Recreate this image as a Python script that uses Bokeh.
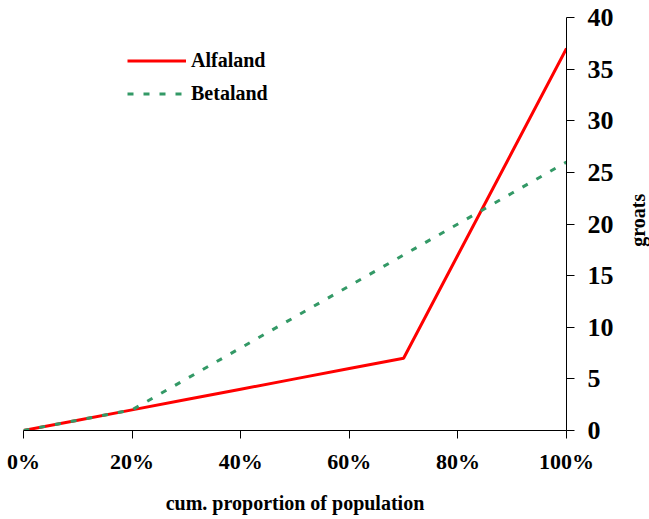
import math
from bokeh.plotting import figure
from bokeh.layouts import row
from bokeh.models import Range1d, FixedTicker, Legend, LegendItem
from bokeh.core.properties import value
from bokeh.embed import file_html
from bokeh.resources import INLINE

# ---- data ----
population_pct = [0, 10, 20, 30, 40, 50, 60, 70, 80, 90, 100]
alfaland = [0, 1, 2, 3, 4, 5, 6, 7, 17, 27, 37]
betaland = [0, 1, 2, 5, 8, 11, 14, 17, 20, 23, 26]

x_ticks = [0, 20, 40, 60, 80, 100]
x_tick_labels = ["0%", "20%", "40%", "60%", "80%", "100%"]
y_ticks = [0, 5, 10, 15, 20, 25, 30, 35, 40]

series_names = ["Alfaland", "Betaland"]
x_title = "cum. proportion of population"
y_title = "groats"

FONT = "Liberation Serif"
RED = "#FF0000"
GREEN = "#339966"

y_range = Range1d(0, 40)

p = figure(frame_width=543, frame_height=413,
           x_range=Range1d(0, 100), y_range=y_range,
           y_axis_location="right",
           output_backend="svg", toolbar_location=None,
           min_border_left=23, min_border_top=17,
           min_border_right=50, min_border_bottom=0)

p.outline_line_color = None
p.xgrid.visible = False
p.ygrid.visible = False
p.background_fill_color = "white"
p.border_fill_color = "white"

r1 = p.line(population_pct, alfaland, line_color=RED, line_width=3)
r2 = p.line(population_pct, betaland, line_color=GREEN, line_width=3,
            line_dash="6 10")

# x axis
xa = p.xaxis[0]
xa.ticker = FixedTicker(ticks=x_ticks)
xa.major_label_overrides = dict(zip(x_ticks, x_tick_labels))
xa.major_tick_out = 8
xa.major_tick_in = 0
xa.minor_tick_line_color = None
xa.axis_line_color = "black"
xa.major_tick_line_color = "black"
xa.major_label_text_font = FONT
xa.major_label_text_font_style = "bold"
xa.major_label_text_font_size = "22px"
xa.major_label_text_color = "black"
xa.major_label_standoff = 10
xa.axis_label = x_title
xa.axis_label_text_font = FONT
xa.axis_label_text_font_style = "bold"
xa.axis_label_text_font_size = "20px"
xa.axis_label_text_color = "black"
xa.axis_label_standoff = 15

# y axis (right)
ya = p.yaxis[0]
ya.ticker = FixedTicker(ticks=y_ticks)
ya.major_tick_out = 8
ya.major_tick_in = 0
ya.minor_tick_line_color = None
ya.axis_line_color = "black"
ya.major_tick_line_color = "black"
ya.major_label_text_font = FONT
ya.major_label_text_font_style = "bold"
ya.major_label_text_font_size = "26px"
ya.major_label_text_color = "black"
ya.major_label_standoff = 13

legend = Legend(items=[LegendItem(label=series_names[0], renderers=[r1]),
                       LegendItem(label=series_names[1], renderers=[r2])],
                location=(104, 325), padding=0, margin=0, spacing=10,
                glyph_width=59, glyph_height=23, label_height=23,
                label_standoff=5,
                label_text_font=FONT, label_text_font_style="bold",
                label_text_font_size="20px", label_text_color="black",
                border_line_color=None, background_fill_alpha=0)
p.add_layout(legend)

# narrow companion figure holding the y-axis title (reads bottom to top)
side = figure(frame_width=33, frame_height=413,
              x_range=Range1d(0, 33), y_range=y_range,
              x_axis_location=None, y_axis_location=None,
              output_backend="svg", toolbar_location=None,
              min_border_left=0, min_border_right=0,
              min_border_top=17, min_border_bottom=60)
side.outline_line_color = None
side.xgrid.visible = False
side.ygrid.visible = False
side.background_fill_color = "white"
side.border_fill_color = "white"
side.text(x=[21], y=[20.37], text=[y_title], angle=math.pi / 2,
          text_align="center", text_baseline="middle",
          text_font=value(FONT), text_font_style="bold",
          text_font_size="20px", text_color="black")

layout = row(p, side, spacing=0)

open("out.html", "w").write(file_html(layout, INLINE))
